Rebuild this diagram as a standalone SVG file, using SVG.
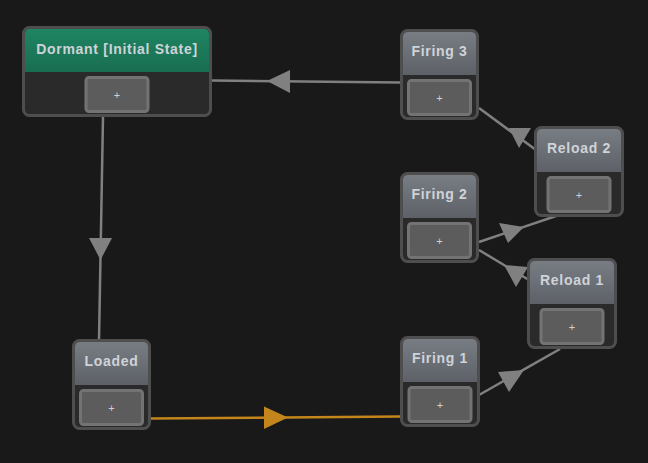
<svg xmlns="http://www.w3.org/2000/svg" width="648" height="463" viewBox="0 0 648 463">
<defs>
<linearGradient id="gh" x1="0" y1="0" x2="0" y2="1">
<stop offset="0" stop-color="#787d84"/><stop offset="1" stop-color="#5d6167"/>
</linearGradient>
<linearGradient id="gg" x1="0" y1="0" x2="0" y2="1">
<stop offset="0" stop-color="#1f8462"/><stop offset="1" stop-color="#186e51"/>
</linearGradient>
</defs>
<style>
.frame{fill:#2a2a2a;stroke:#4e4e4e;stroke-width:3}
.hd{fill:url(#gh)}
.hg{fill:url(#gg)}
.btn{fill:#5c5c5c;stroke:#737373;stroke-width:3}
.title{font-family:"Liberation Sans",Arial,sans-serif;font-weight:bold;font-size:14px;letter-spacing:0.7px;fill:#cfd3d8;text-anchor:middle}
.plus{font-family:"Liberation Sans",Arial,sans-serif;font-size:11px;fill:#d0d0d0;text-anchor:middle}
.ln{stroke:#808080;stroke-width:2.5;fill:none}
.lo{stroke:#c4861c;stroke-width:2.5;fill:none}
.ah{fill:#808080}
.ao{fill:#c4861c}
</style>
<rect width="648" height="463" fill="#191919"/>
<g id="connectors">
<line class="ln" x1="212" y1="80.5" x2="400" y2="82.5"/>
<polygon class="ah" points="267,81 290,70 290,93"/>
<line class="ln" x1="103" y1="117" x2="99" y2="341"/>
<polygon class="ah" points="100.5,260 89,238 112,238"/>
<line class="lo" x1="151" y1="418.5" x2="400" y2="416.5"/>
<polygon class="ao" points="288,417.5 264,406.5 264,429"/>
<line class="ln" x1="479" y1="395" x2="560" y2="349"/>
<polygon class="ah" points="524,370 498,372 509,392"/>
<line class="ln" x1="479" y1="250" x2="529" y2="280"/>
<polygon class="ah" points="504,265 528,267 516,287"/>
<line class="ln" x1="479" y1="242" x2="556" y2="216"/>
<polygon class="ah" points="524,227 499,223 508,243"/>
<line class="ln" x1="479" y1="108" x2="536" y2="150"/>
<polygon class="ah" points="509,128 531,128 519,148"/>
</g>
<g id="dormant" transform="translate(22,26)">
<rect class="frame" x="1.5" y="1.5" width="187" height="88" rx="6"/>
<path class="hg" d="M3,46V8Q3,3 8,3H182Q187,3 187,8V46Z"/>
<text class="title" x="95" y="28">Dormant [Initial State]</text>
<rect class="btn" x="64" y="51.5" width="62" height="34" rx="3"/>
<text class="plus" x="95" y="73">+</text>
</g>
<g id="firing3" transform="translate(400,29)">
<rect class="frame" x="1.5" y="1.5" width="76" height="88" rx="6"/>
<path class="hd" d="M3,46V8Q3,3 8,3H71Q76,3 76,8V46Z"/>
<text class="title" x="39.5" y="27">Firing 3</text>
<rect class="btn" x="8.5" y="51.5" width="62" height="34" rx="3"/>
<text class="plus" x="39.5" y="73">+</text>
</g>
<g id="reload2" transform="translate(534,126)">
<rect class="frame" x="1.5" y="1.5" width="87" height="88" rx="6"/>
<path class="hd" d="M3,46V8Q3,3 8,3H82Q87,3 87,8V46Z"/>
<text class="title" x="45" y="27">Reload 2</text>
<rect class="btn" x="14" y="51.5" width="62" height="34" rx="3"/>
<text class="plus" x="45" y="73">+</text>
</g>
<g id="firing2" transform="translate(400,172)">
<rect class="frame" x="1.5" y="1.5" width="76" height="88" rx="6"/>
<path class="hd" d="M3,46V8Q3,3 8,3H71Q76,3 76,8V46Z"/>
<text class="title" x="39.5" y="27">Firing 2</text>
<rect class="btn" x="8.5" y="51.5" width="62" height="34" rx="3"/>
<text class="plus" x="39.5" y="73">+</text>
</g>
<g id="reload1" transform="translate(527,258)">
<rect class="frame" x="1.5" y="1.5" width="87" height="88" rx="6"/>
<path class="hd" d="M3,46V8Q3,3 8,3H82Q87,3 87,8V46Z"/>
<text class="title" x="45" y="27">Reload 1</text>
<rect class="btn" x="14" y="51.5" width="62" height="34" rx="3"/>
<text class="plus" x="45" y="73">+</text>
</g>
<g id="loaded" transform="translate(72,339)">
<rect class="frame" x="1.5" y="1.5" width="76" height="88" rx="6"/>
<path class="hd" d="M3,46V8Q3,3 8,3H71Q76,3 76,8V46Z"/>
<text class="title" x="39.5" y="27">Loaded</text>
<rect class="btn" x="8.5" y="51.5" width="62" height="34" rx="3"/>
<text class="plus" x="39.5" y="73">+</text>
</g>
<g id="firing1" transform="translate(400,336)">
<rect class="frame" x="1.5" y="1.5" width="77" height="88" rx="6"/>
<path class="hd" d="M3,46V8Q3,3 8,3H72Q77,3 77,8V46Z"/>
<text class="title" x="40" y="27">Firing 1</text>
<rect class="btn" x="9" y="51.5" width="62" height="34" rx="3"/>
<text class="plus" x="40" y="73">+</text>
</g>
</svg>
